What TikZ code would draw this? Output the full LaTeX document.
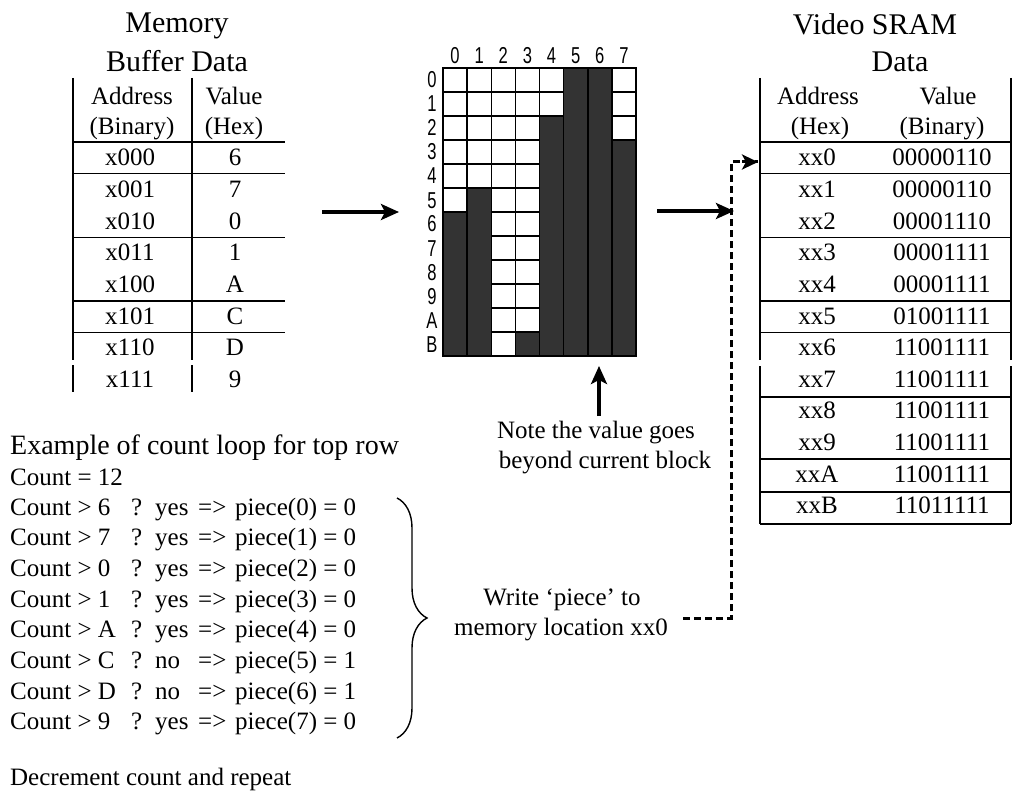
\documentclass[tikz,border=0pt]{standalone}
\usepackage{fontspec}
\setmainfont{Liberation Serif}
\newfontfamily\gridfont[FakeStretch=0.72]{Liberation Sans}
\usetikzlibrary{arrows.meta,decorations.pathreplacing}
\definecolor{cellgray}{RGB}{51,51,51}

\begin{document}
\begin{tikzpicture}[x=1pt,y=-1pt,
  tx/.style={inner sep=0pt, anchor=base, font=\fontsize{25}{28}\selectfont},
  ttl/.style={inner sep=0pt, anchor=base, font=\fontsize{30}{34}\selectfont},
  lbl/.style={inner sep=0pt, anchor=base, font=\gridfont\fontsize{23}{25}\selectfont},
  rule/.style={line width=1.8pt},
  cell/.style={draw=black, line width=1.5pt, fill=white},
  darkcell/.style={draw=black, line width=1.5pt, fill=cellgray},
  bigarrow/.style={line width=3.4pt, -{Stealth[length=18pt,width=16pt,inset=4pt]}},
  dashline/.style={line width=3pt, dash pattern=on 7pt off 4pt},
]
\useasboundingbox (0,0) rectangle (1013,797);

% ---------------- Memory buffer table ----------------
\node[ttl] (memT) at (177,33) {Memory};
\node[ttl] (bufT) at (177,72) {Buffer Data};
\node[tx] (lAddr) at (132,105) {Address};
\node[tx] (lBin)  at (132,135) {(Binary)};
\node[tx] (lVal)  at (234,105) {Value};
\node[tx] (lHex)  at (234,135) {(Hex)};
\foreach \a/\v [count=\i from 0] in {x000/6,x001/7,x010/0,x011/1,x100/A,x101/C,x110/D,x111/9} {
  \node[tx] (laddr\i) at (130,166+31.6*\i) {\a};
  \node[tx] (lval\i)  at (235,166+31.6*\i) {\v};
}
\foreach \xx in {73,192} {
  \draw[rule] (\xx,78) -- (\xx,360);
  \draw[rule] (\xx,365) -- (\xx,392);
}
\foreach \yy in {142,173.5,237.5,301,332.5} {
  \draw[rule] (73,\yy) -- (285,\yy);
}

% ---------------- Bit grid ----------------
\foreach \c/\s in {0/6,1/5,2/12,3/11,4/2,5/0,6/0,7/3} {
  \pgfmathsetmacro\xl{443+\c*24.125}
  \pgfmathsetmacro\xr{443+(\c+1)*24.125}
  \foreach \r in {0,...,11} {
    \ifnum\r<\s
      \draw[cell] (\xl,68+\r*24) rectangle (\xr,68+\r*24+24);
    \fi
  }
  \ifnum\s<12
    \draw[darkcell] (\xl,68+\s*24) rectangle (\xr,356);
  \fi
  \node[lbl] (col\c) at (455+\c*24.125,64) {\c};
}
\foreach \t [count=\i from 0] in {0,1,2,3,4,5,6,7,8,9,A,B} {
  \node[lbl] (row\i) at (432,88+\i*24) {\t};
}

% ---------------- Video SRAM table ----------------
\node[ttl] (vidT) at (875,35) {Video SRAM};
\node[ttl] (datT) at (900,72) {Data};
\node[tx] (rAddr) at (818,105) {Address};
\node[tx] (rHex)  at (820,135) {(Hex)};
\node[tx] (rVal)  at (948,105) {Value};
\node[tx] (rBin)  at (942,135) {(Binary)};
\foreach \a/\v [count=\i from 0] in {xx0/00000110,xx1/00000110,xx2/00001110,xx3/00001111,
    xx4/00001111,xx5/01001111,xx6/11001111,xx7/11001111,xx8/11001111,xx9/11001111,
    xxA/11001111,xxB/11011111} {
  \node[tx] (raddr\i) at (817,166+31.6*\i) {\a};
  \node[tx] (rval\i)  at (942,166+31.6*\i) {\v};
}
\foreach \xx in {760,1011} {
  \draw[rule] (\xx,78) -- (\xx,360);
  \draw[rule] (\xx,366) -- (\xx,524);
}
\foreach \yy in {142,173.5,237.5,301,332.5,397,459,492,524} {
  \draw[rule] (760,\yy) -- (1011,\yy);
}

% ---------------- Arrows ----------------
\coordinate (inS)  at (322,212);
\coordinate (inE)  at (399,212);
\coordinate (outS) at (657,211);
\coordinate (outE) at (734,211);
\draw[bigarrow] (inS) -- (inE);
\draw[bigarrow] (outS) -- (outE);

% note below the grid
\node[tx] (note1) at (596,438) {Note the value goes};
\node[tx] (note2) at (605,468) {beyond current block};
\coordinate (upS) at (599,416);
\coordinate (upE) at (599,366);
\draw[bigarrow] (upS) -- (upE);

% ---------------- Count loop ----------------
\node[inner sep=0pt, anchor=base west, font=\fontsize{28}{32}\selectfont] (ex) at (10,454) {Example of count loop for top row};
\node[tx, anchor=base west] (cnt) at (10,485) {Count = 12};
\foreach \k/\ans/\p/\res [count=\i from 0] in {
    {Count > 6}/yes/0/0, {Count > 7}/yes/1/0, {Count > 0}/yes/2/0,
    {Count > 1}/yes/3/0, {Count > A}/yes/4/0, {Count > C}/no/5/1,
    {Count > D}/no/6/1, {Count > 9}/yes/7/0} {
  \node[tx, anchor=base west] (loop\i) at (10,515+30.7*\i)
    {\makebox[121pt][l]{\k}\makebox[24pt][l]{?}\makebox[43pt][l]{\ans}\makebox[37pt][l]{=>}piece(\p) = \res};
}
\draw[line width=1.4pt, decorate, decoration={brace, amplitude=30pt}] (397,498) -- (397,738);
\node[tx, anchor=base west] (dec) at (10,785) {Decrement count and repeat};

% ---------------- Write step ----------------
\node[tx] (w1) at (562,605) {Write ‘piece’ to};
\node[tx] (w2) at (561,635) {memory location xx0};
\coordinate (d0) at (683,618);
\coordinate (d1) at (731,618);
\coordinate (d2) at (731,162);
\coordinate (d3) at (758,162);
\draw[dashline] (d0) -- (d1) -- (d2) -- (d3);
\draw[line width=3pt, -{Stealth[length=16pt,width=15pt,inset=4pt]}] (742,162) -- (d3);
\end{tikzpicture}
\end{document}
